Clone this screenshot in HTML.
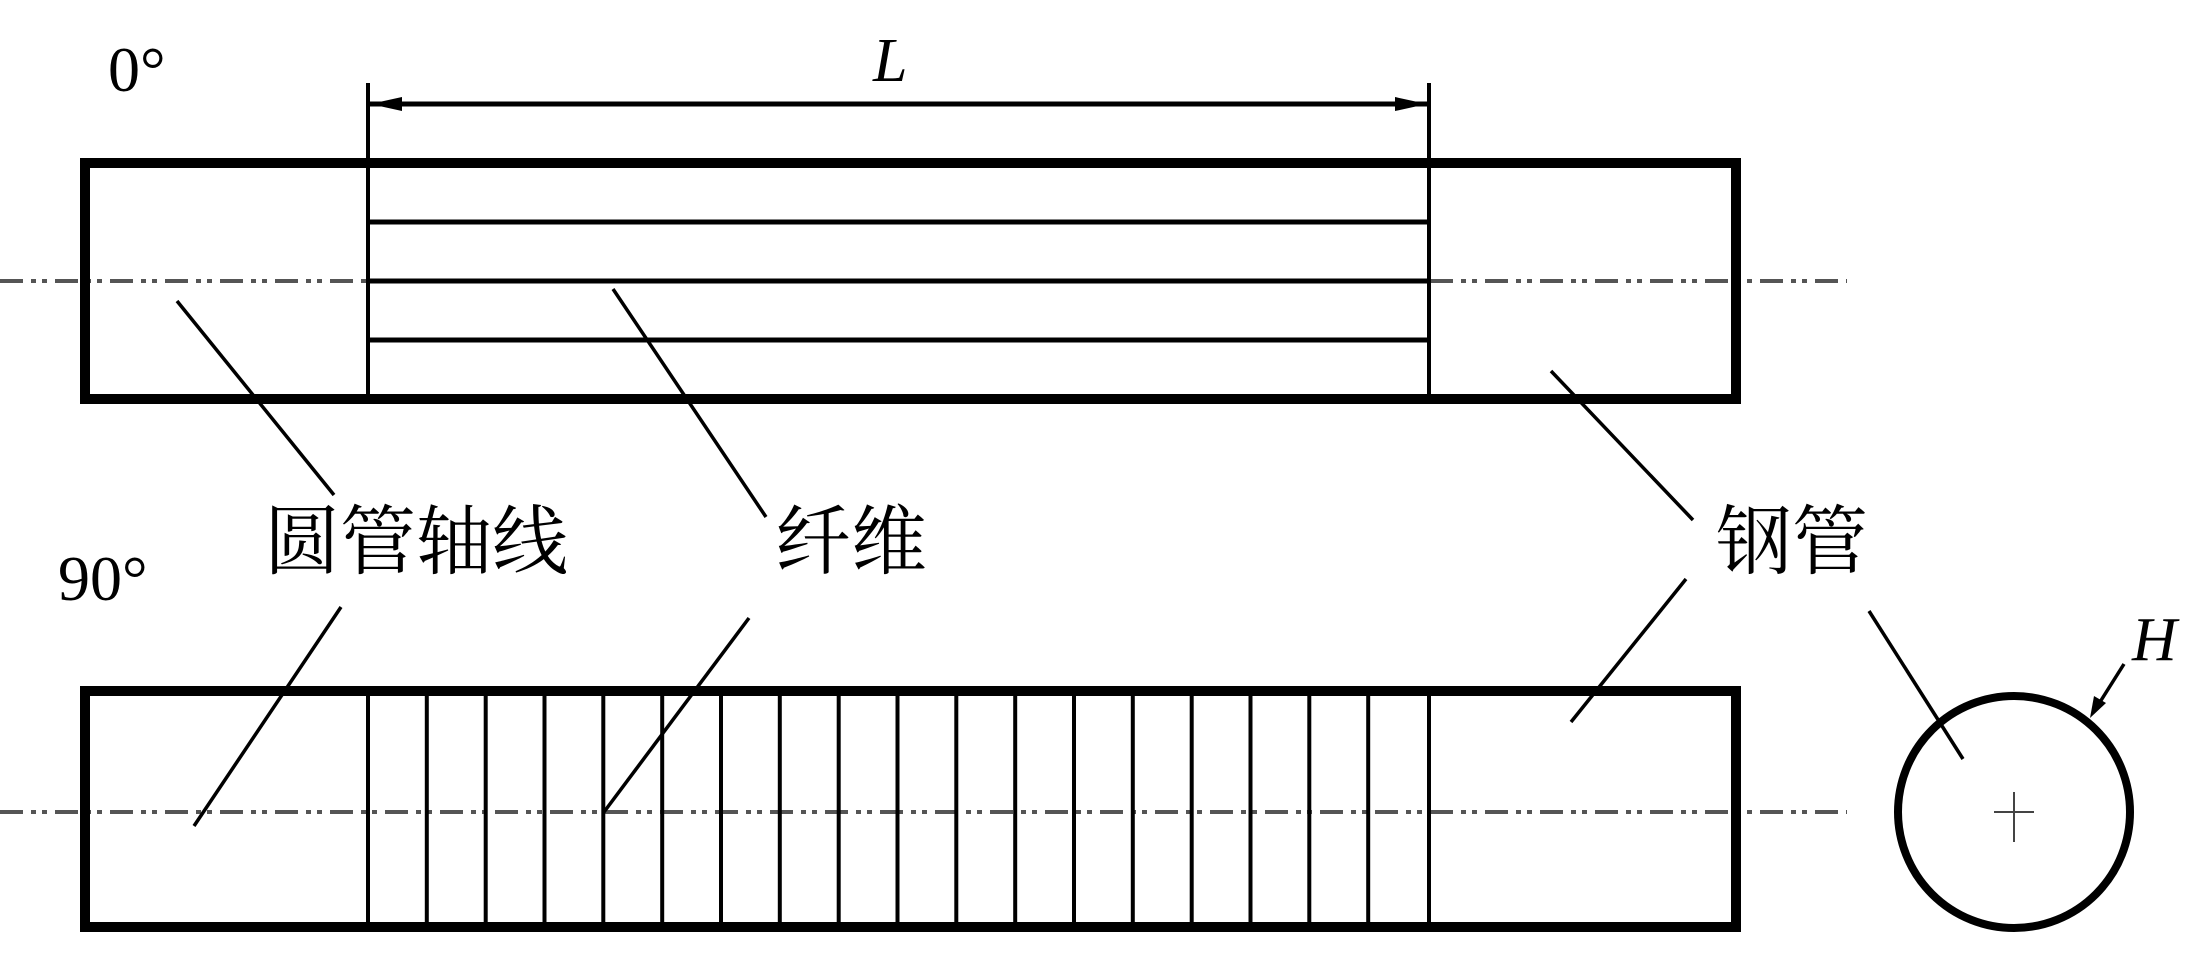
<!DOCTYPE html>
<html><head><meta charset="utf-8"><style>
html,body{margin:0;padding:0;background:#fff;}
svg{display:block;}
</style></head><body>
<svg width="2203" height="958" viewBox="0 0 2203 958" xmlns="http://www.w3.org/2000/svg">
<g fill="none" stroke="#000">
<g stroke="#555" stroke-width="4" stroke-dasharray="23,8,5,6,5,8">
<line x1="0" y1="281" x2="1847" y2="281"/>
<line x1="0" y1="812" x2="1847" y2="812"/>
</g>
<rect x="85" y="163" width="1651" height="236" stroke-width="10"/>
<line x1="368" y1="83" x2="368" y2="399" stroke-width="4"/>
<line x1="1429" y1="83" x2="1429" y2="399" stroke-width="4"/>
<g stroke-width="5">
<line x1="368" y1="222" x2="1429" y2="222"/>
<line x1="368" y1="281" x2="1429" y2="281"/>
<line x1="368" y1="340" x2="1429" y2="340"/>
</g>
<line x1="370" y1="104" x2="1427" y2="104" stroke-width="5"/>
<path d="M370,104 L402,97 L402,111 Z M1427,104 L1395,97 L1395,111 Z" fill="#000" stroke="none"/>
<rect x="85" y="691" width="1651" height="236" stroke-width="10"/>
<g stroke-width="4">
<line x1="368.0" y1="691" x2="368.0" y2="927"/>
<line x1="426.8" y1="691" x2="426.8" y2="927"/>
<line x1="485.7" y1="691" x2="485.7" y2="927"/>
<line x1="544.5" y1="691" x2="544.5" y2="927"/>
<line x1="603.3" y1="691" x2="603.3" y2="927"/>
<line x1="662.2" y1="691" x2="662.2" y2="927"/>
<line x1="721.0" y1="691" x2="721.0" y2="927"/>
<line x1="779.8" y1="691" x2="779.8" y2="927"/>
<line x1="838.7" y1="691" x2="838.7" y2="927"/>
<line x1="897.5" y1="691" x2="897.5" y2="927"/>
<line x1="956.3" y1="691" x2="956.3" y2="927"/>
<line x1="1015.2" y1="691" x2="1015.2" y2="927"/>
<line x1="1074.0" y1="691" x2="1074.0" y2="927"/>
<line x1="1132.8" y1="691" x2="1132.8" y2="927"/>
<line x1="1191.7" y1="691" x2="1191.7" y2="927"/>
<line x1="1250.5" y1="691" x2="1250.5" y2="927"/>
<line x1="1309.3" y1="691" x2="1309.3" y2="927"/>
<line x1="1368.2" y1="691" x2="1368.2" y2="927"/>
<line x1="1429.0" y1="691" x2="1429.0" y2="927"/>
</g>
<circle cx="2014" cy="812" r="116" stroke-width="8"/>
<line x1="1994" y1="812" x2="2034" y2="812" stroke="#444" stroke-width="2"/>
<line x1="2014" y1="792" x2="2014" y2="842" stroke="#444" stroke-width="2"/>
<g stroke-width="3.5">
<line x1="177" y1="301" x2="334" y2="495"/>
<line x1="341" y1="607" x2="194" y2="826"/>
<line x1="613" y1="289" x2="766" y2="517"/>
<line x1="749" y1="618" x2="604" y2="812"/>
<line x1="1551" y1="371" x2="1693" y2="520"/>
<line x1="1686" y1="579" x2="1571" y2="722"/>
<line x1="1869" y1="611" x2="1963" y2="759"/>
<line x1="2124" y1="664" x2="2100" y2="702"/>
</g>
<path d="M2090,718 L2094,696 L2106,703 Z" fill="#000" stroke="none"/>
</g>
<g font-family="Liberation Serif, serif" fill="#000">
<text x="108" y="91" font-size="64">0°</text>
<text x="58" y="600" font-size="64">90°</text>
<text x="873" y="81" font-size="62" font-style="italic">L</text>
<text x="2132" y="660" font-size="62" font-style="italic">H</text>
</g>
<g font-family="Liberation Serif, Noto Serif CJK SC, serif" font-size="76" fill="#000">
<text x="264" y="568">圆管轴线</text>
<text x="775" y="568">纤维</text>
<text x="1716" y="568">钢管</text>
</g>
</svg>
</body></html>
